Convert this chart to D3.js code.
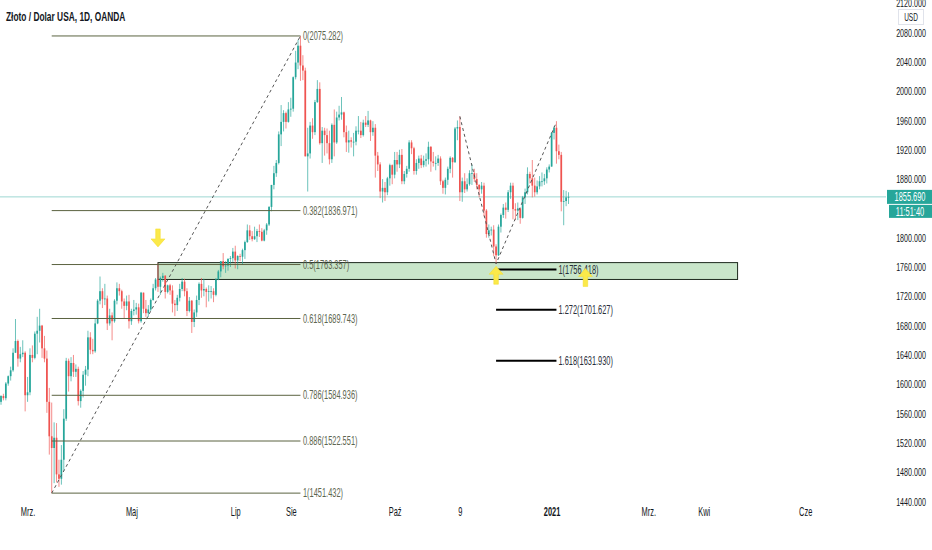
<!DOCTYPE html>
<html>
<head>
<meta charset="utf-8">
<script src="https://cdn.jsdelivr.net/npm/d3@7"></script>
<style>
  html, body { margin: 0; padding: 0; background: #fff; }
  svg { display: block; font-family: "Liberation Sans", Arial, sans-serif; }
</style>
</head>
<body>
<div id="chart"></div>
<script>
// daily candles XAU/USD, first bar 2020-02-14, one row per trading day: [open, high, low, close]
const ohlc = [
  [1576,1585,1572,1584],[1584,1587,1578,1581],[1581,1603,1578,1601],[1601,1612,1598,1611],[1611,1624,1605,1619],
  [1619,1649,1617,1643],[1643,1689,1643,1659],[1659,1661,1624,1635],[1635,1651,1630,1641],[1641,1660,1637,1643],
  [1643,1645,1563,1585],[1585,1610,1576,1589],[1589,1649,1585,1640],[1640,1653,1630,1636],[1636,1672,1634,1669],
  [1669,1692,1641,1673],[1673,1703,1657,1680],[1680,1681,1636,1649],[1649,1666,1630,1635],[1635,1646,1561,1576],
  [1576,1595,1504,1529],[1529,1575,1451.4,1513],[1513,1548,1465,1527],[1527,1547,1466,1477],[1477,1497,1460,1471],
  [1471,1517,1463,1497],[1497,1566,1482,1553],[1553,1636,1550,1632],[1632,1635,1590,1611],[1611,1637,1604,1629],
  [1629,1640,1610,1617],[1617,1627,1610,1621],[1621,1624,1571,1577],[1577,1593,1568,1591],[1591,1618,1582,1613],
  [1613,1625,1598,1620],[1620,1673,1611,1664],[1664,1671,1641,1647],[1647,1662,1641,1645],[1645,1690,1643,1683],
  [1683,1716,1682,1714],[1714,1747,1709,1727],[1727,1731,1704,1716],[1716,1737,1708,1717],[1717,1721,1674,1683],
  [1683,1703,1680,1694],[1694,1698,1660,1686],[1686,1716,1684,1714],[1714,1739,1709,1731],[1731,1737,1721,1727],
  [1727,1729,1703,1713],[1713,1717,1690,1707],[1707,1721,1701,1713],[1713,1722,1676,1686],[1686,1703,1681,1700],
  [1700,1715,1694,1702],[1702,1711,1695,1705],[1705,1710,1683,1686],[1686,1726,1684,1725],[1725,1725,1697,1703],
  [1703,1715,1692,1697],[1697,1708,1692,1702],[1702,1717,1700,1715],[1715,1737,1714,1731],[1731,1745,1728,1743],
  [1743,1765,1726,1733],[1733,1747,1722,1745],[1745,1752,1740,1748],[1748,1749,1717,1726],[1726,1736,1724,1735],
  [1735,1737,1722,1728],[1728,1735,1698,1710],[1710,1715,1693,1708],[1708,1722,1700,1718],[1718,1737,1713,1730],
  [1730,1745,1727,1740],[1740,1744,1720,1727],[1727,1731,1693,1700],[1700,1719,1698,1714],[1714,1715,1670,1685],
  [1685,1702,1678,1698],[1698,1721,1692,1715],[1715,1739,1708,1737],[1737,1745,1718,1728],[1728,1744,1720,1730],
  [1730,1732,1705,1726],[1726,1735,1713,1727],[1727,1734,1717,1727],[1727,1731,1712,1722],[1722,1745,1720,1743],
  [1743,1756,1742,1754],[1754,1768,1746,1768],[1768,1779,1757,1761],[1761,1768,1752,1762],[1762,1772,1755,1771],
  [1771,1775,1760,1772],[1772,1786,1767,1781],[1781,1789,1758,1769],[1769,1776,1757,1775],[1775,1778,1768,1774],
  [1774,1785,1763,1783],[1783,1796,1771,1794],[1794,1818,1793,1810],[1810,1817,1797,1802],[1802,1809,1795,1798],
  [1798,1815,1797,1802],[1802,1812,1794,1809],[1809,1818,1801,1808],[1808,1813,1795,1796],[1796,1812,1795,1810],
  [1810,1820,1804,1818],[1818,1843,1816,1842],[1842,1872,1836,1872],[1872,1898,1866,1888],[1888,1906,1883,1902],
  [1902,1945,1900,1941],[1941,1981,1925,1958],[1958,1974,1945,1970],[1970,1972,1949,1958],[1958,1985,1957,1975],
  [1975,1991,1965,1976],[1976,2020,1972,2019],[2019,2055,2016,2039],[2039,2070,2030,2062],[2062,2075.3,2014,2035],
  [2035,2049,2015,2028],[2028,2032,1911,1911],[1911,1950,1863,1915],[1915,1958,1908,1953],[1953,1963,1935,1944],
  [1944,1988,1940,1985],[1985,2015,1984,2003],[2003,2012,1927,1929],[1929,1951,1902,1946],[1946,1950,1912,1940],
  [1940,1949,1915,1929],[1929,1946,1900,1907],[1907,1956,1902,1954],[1954,1975,1911,1930],[1930,1972,1928,1964],
  [1964,1980,1960,1968],[1968,1992,1961,1971],[1971,1972,1937,1944],[1944,1953,1917,1930],[1930,1946,1916,1933],
  [1933,1937,1923,1931],[1931,1943,1911,1931],[1931,1952,1926,1946],[1946,1966,1941,1946],[1946,1958,1936,1940],
  [1940,1961,1938,1957],[1957,1966,1951,1954],[1954,1973,1951,1960],[1960,1961,1932,1944],[1944,1959,1939,1950],
  [1950,1955,1882,1912],[1912,1917,1891,1900],[1900,1903,1854,1863],[1863,1880,1848,1868],[1868,1876,1850,1862],
  [1862,1883,1858,1881],[1881,1901,1871,1899],[1899,1900,1873,1886],[1886,1917,1881,1906],[1906,1917,1890,1900],
  [1900,1920,1895,1913],[1913,1921,1873,1877],[1877,1891,1873,1887],[1887,1898,1882,1894],[1894,1933,1890,1930],
  [1930,1933,1914,1922],[1922,1924,1886,1891],[1891,1907,1886,1902],[1902,1912,1894,1908],[1908,1913,1895,1899],
  [1899,1912,1896,1905],[1905,1915,1897,1907],[1907,1931,1900,1924],[1924,1925,1890,1904],[1904,1917,1897,1902],
  [1902,1911,1892,1902],[1902,1913,1898,1908],[1908,1911,1872,1877],[1877,1879,1860,1868],[1868,1882,1859,1879],
  [1879,1897,1872,1894],[1894,1911,1888,1909],[1909,1910,1882,1903],[1903,1951,1902,1949],[1949,1960,1933,1951],
  [1951,1965.5,1850,1862],[1862,1882,1849,1877],[1877,1888,1861,1866],[1866,1881,1863,1873],[1873,1892,1871,1888],
  [1888,1900,1872,1888],[1888,1894,1876,1880],[1880,1888,1866,1872],[1872,1873,1855,1866],[1866,1876,1860,1871],
  [1871,1875,1829,1837],[1837,1839,1800,1805],[1805,1818,1800,1810],[1810,1815,1803,1811],[1811,1817,1775,1788],
  [1788,1791,1764.3,1776],[1776,1818,1775,1815],[1815,1833,1807,1831],[1831,1846,1827,1841],[1841,1848,1826,1838],
  [1838,1865,1835,1862],[1862,1875,1853,1871],[1871,1875,1825,1839],[1839,1847,1824,1837],[1837,1848,1824,1840],
  [1840,1840,1819,1827],[1827,1857,1826,1855],[1855,1867,1846,1862],[1862,1896,1859,1887],[1887,1890,1874,1881],
  [1881,1906,1855,1871],[1871,1882,1856,1862],[1862,1878,1859,1870],[1870,1884,1866,1877],[1877,1889,1870,1877],
  [1877,1887,1872,1881],[1881,1896,1874,1893],[1893,1900,1889,1897],[1897,1944,1897,1943],[1943,1952,1934,1950],
  [1950,1959,1901,1918],[1918,1927,1907,1913],[1913,1917,1836,1849],[1849,1865,1817,1850],[1850,1864,1843,1855],
  [1855,1862,1846,1855.69]
];
const firstDay = '2020-02-14';
const holidays = ['2020-04-10', '2020-12-25', '2021-01-01', '2021-04-02'];
const lastPrice = 1855.69;
const lastTime = '11:51:40';

// 1840 sits under the last-price tag and is not shown
const priceTicks = [1440, 1480, 1520, 1560, 1600, 1640, 1680, 1720, 1760, 1800, 1880, 1920, 1960, 2000, 2040, 2080, 2120];
const timeTicks = [
  ['2020-03-02', 'Mrz.'], ['2020-05-01', 'Maj'], ['2020-07-01', 'Lip'], ['2020-08-03', 'Sie'],
  ['2020-10-01', 'Paź'], ['2020-11-09', '9'], ['2021-01-04', '2021'], ['2021-03-01', 'Mrz.'],
  ['2021-04-01', 'Kwi'], ['2021-06-01', 'Cze']
];

// fib retracement, low 2020-03-16 -> high 2020-08-07
const fibLevels = ['0', '0.382', '0.5', '0.618', '0.786', '0.886', '1'];
const fibPrices = [2075.282, 1836.971, 1763.357, 1689.743, 1584.936, 1522.551, 1451.432];
const fibAnchors = [['2020-03-16', 1451.432], ['2020-08-07', 2075.282]];

// trend based fib extension
const extLevels = ['1', '1.272', '1.618'];
const extPrices = [1756.418, 1701.627, 1631.930];
const extAnchors = [['2020-11-09', 1965.5], ['2020-11-30', 1764.3], ['2021-01-06', 1957.7]];

const zone = { from: '2020-05-18', to: '2021-04-22', top: 1766, bottom: 1743 };
const arrowsDown = [['2020-05-18', 1812]];
const arrowsUp = [['2020-11-30', 1761], ['2021-01-22', 1758]];

const W = 932, H = 550, plotRight = 886;
const SX = 0.62; // narrow text like the screenshot
const fmt = d3.timeFormat('%Y-%m-%d');
const parse = d3.timeParse('%Y-%m-%d');

const days = d3.timeDay.range(parse(firstDay), parse('2021-07-01'))
  .filter(d => d.getDay() % 6 !== 0 && !holidays.includes(fmt(d)));
const dayIndex = new Map(days.map((d, i) => [fmt(d), i]));
const ix = s => dayIndex.get(s);

const x = d3.scaleLinear().domain([0, 100]).range([1, 242.5]);
const y = d3.scaleLinear().domain([1440, 2080]).range([501.5, 32.5]);

const svg = d3.select('#chart').append('svg').attr('width', W).attr('height', H);

function label(g, px, py, s, o = {}) {
  return g.append('text')
    .attr('transform', `translate(${px},${py}) scale(${SX},1)`)
    .attr('text-anchor', o.anchor || 'start')
    .attr('dominant-baseline', 'central')
    .style('font-size', (o.size || 12) + 'px')
    .style('font-weight', o.weight || 'normal')
    .style('fill', o.color || '#131722')
    .text(s);
}

svg.append('clipPath').attr('id', 'plot')
  .append('rect').attr('x', 0).attr('y', 0).attr('width', plotRight).attr('height', 503);

const plot = svg.append('g').attr('clip-path', 'url(#plot)');

// last price line
plot.append('line')
  .attr('x1', 0).attr('x2', plotRight)
  .attr('y1', y(lastPrice)).attr('y2', y(lastPrice))
  .style('stroke', '#26a69a').style('stroke-opacity', 0.45).style('stroke-width', 1);

// support zone
plot.append('rect')
  .attr('x', x(ix(zone.from))).attr('y', y(zone.top))
  .attr('width', x(ix(zone.to)) - x(ix(zone.from)))
  .attr('height', y(zone.bottom) - y(zone.top))
  .style('fill', '#a5d6a7').style('fill-opacity', 0.6)
  .style('stroke', '#1e2a1e').style('stroke-width', 1);

// candles
const candles = plot.append('g').selectAll('g')
  .data(ohlc)
  .enter().append('g')
  .style('fill', d => d[3] >= d[0] ? '#26a69a' : '#ef5350')
  .style('stroke', d => d[3] >= d[0] ? '#26a69a' : '#ef5350');
candles.append('line')
  .attr('x1', (d, i) => x(i)).attr('x2', (d, i) => x(i))
  .attr('y1', d => y(d[1])).attr('y2', d => y(d[2]))
  .style('stroke-width', 0.9).style('stroke-opacity', 0.75);
candles.append('rect')
  .attr('x', (d, i) => x(i) - 0.85).attr('width', 1.7)
  .attr('y', d => y(Math.max(d[0], d[3])))
  .attr('height', d => Math.max(0.8, Math.abs(y(d[0]) - y(d[3]))))
  .style('stroke', 'none');

// fib retracement
const fibX1 = x(ix(fibAnchors[0][0])), fibX2 = x(ix(fibAnchors[1][0]));
const fibG = plot.append('g');
fibG.append('line')
  .attr('x1', fibX1).attr('y1', y(fibAnchors[0][1]))
  .attr('x2', fibX2).attr('y2', y(fibAnchors[1][1]))
  .style('stroke', '#555').style('stroke-width', 1).style('stroke-dasharray', '3,3');
fibPrices.forEach((p, i) => {
  fibG.append('line')
    .attr('x1', fibX1).attr('x2', fibX2).attr('y1', y(p)).attr('y2', y(p))
    .style('stroke', '#5b6340').style('stroke-width', 1);
  label(fibG, fibX2 + 2.5, y(p), `${fibLevels[i]}(${p.toFixed(3)})`, { color: '#5e6650' });
});

// fib extension
const extG = plot.append('g');
extG.append('path')
  .attr('d', d3.line().x(d => x(ix(d[0]))).y(d => y(d[1]))(extAnchors))
  .style('fill', 'none').style('stroke', '#555').style('stroke-width', 1).style('stroke-dasharray', '3,3');
const extX1 = x(ix(extAnchors[1][0])), extX2 = x(ix(extAnchors[2][0]));
extPrices.forEach((p, i) => {
  extG.append('line')
    .attr('x1', extX1).attr('x2', extX2).attr('y1', y(p)).attr('y2', y(p))
    .style('stroke', '#000').style('stroke-width', 2);
  label(extG, extX2 + 2, y(p), `${extLevels[i]}(${p.toFixed(3)})`, { color: '#2a2e39' });
});

// yellow arrows
function arrow(cx, tipY, dir) {
  const s = dir; // -1 up, 1 down
  const pts = [
    [cx, tipY], [cx + 7, tipY - s * 8], [cx + 2.3, tipY - s * 8], [cx + 2.3, tipY - s * 18],
    [cx - 2.3, tipY - s * 18], [cx - 2.3, tipY - s * 8], [cx - 7, tipY - s * 8]
  ];
  plot.append('path').attr('d', 'M' + pts.join('L') + 'Z')
    .style('fill', '#fbe94a').style('stroke', '#f5dc2a').style('stroke-width', 0.5);
}
arrowsDown.forEach(a => arrow(x(ix(a[0])), y(a[1]) + 18, 1));
arrowsUp.forEach(a => arrow(x(ix(a[0])), y(a[1]), -1));

// price axis
const yAxis = svg.append('g').attr('transform', 'translate(911,0)')
  .call(d3.axisRight(y).tickValues(priceTicks).tickFormat(d3.format('.3f')).tickSize(0).tickPadding(0));
yAxis.select('.domain').remove();
yAxis.selectAll('text')
  .attr('x', 0).attr('dy', '0.32em')
  .attr('text-anchor', 'middle')
  .attr('transform', `scale(${SX},1)`)
  .style('font-size', '11.5px').style('fill', '#131722')
  .style('font-family', '"Liberation Sans", Arial, sans-serif');

// USD box
svg.append('rect').attr('x', 898.5).attr('y', 9.5).attr('width', 25).attr('height', 15)
  .style('fill', '#fff').style('stroke', '#e0e3eb');
label(svg, 911, 17, 'USD', { anchor: 'middle', size: 10.5 });

// last price tag
svg.append('rect').attr('x', 887).attr('y', y(lastPrice) - 7).attr('width', 45).attr('height', 14)
  .style('fill', '#26a69a');
label(svg, 910, y(lastPrice), lastPrice.toFixed(3), { anchor: 'middle', color: '#fff' });
svg.append('rect').attr('x', 889).attr('y', y(lastPrice) + 8).attr('width', 43).attr('height', 13)
  .style('fill', '#26a69a');
label(svg, 910, y(lastPrice) + 14.5, lastTime, { anchor: 'middle', color: '#fff' });

// time axis
const xAxis = svg.append('g').attr('transform', 'translate(0,504)')
  .call(d3.axisBottom(x).tickValues(timeTicks.map(t => ix(t[0])))
    .tickFormat((d, i) => timeTicks[i][1]).tickSize(0).tickPadding(0));
xAxis.select('.domain').remove();
xAxis.selectAll('text')
  .attr('y', 0).attr('dy', '0.71em')
  .attr('transform', `translate(0,3) scale(${SX},1)`)
  .attr('x', 0)
  .style('font-size', '12px').style('fill', '#131722')
  .style('font-weight', (d, i) => timeTicks[i][1] === '2021' ? 'bold' : 'normal')
  .style('font-family', '"Liberation Sans", Arial, sans-serif');

// title
label(svg, 6, 16, 'Złoto / Dolar USA, 1D, OANDA', { size: 13.5, weight: 'bold' });
</script>
</body>
</html>
